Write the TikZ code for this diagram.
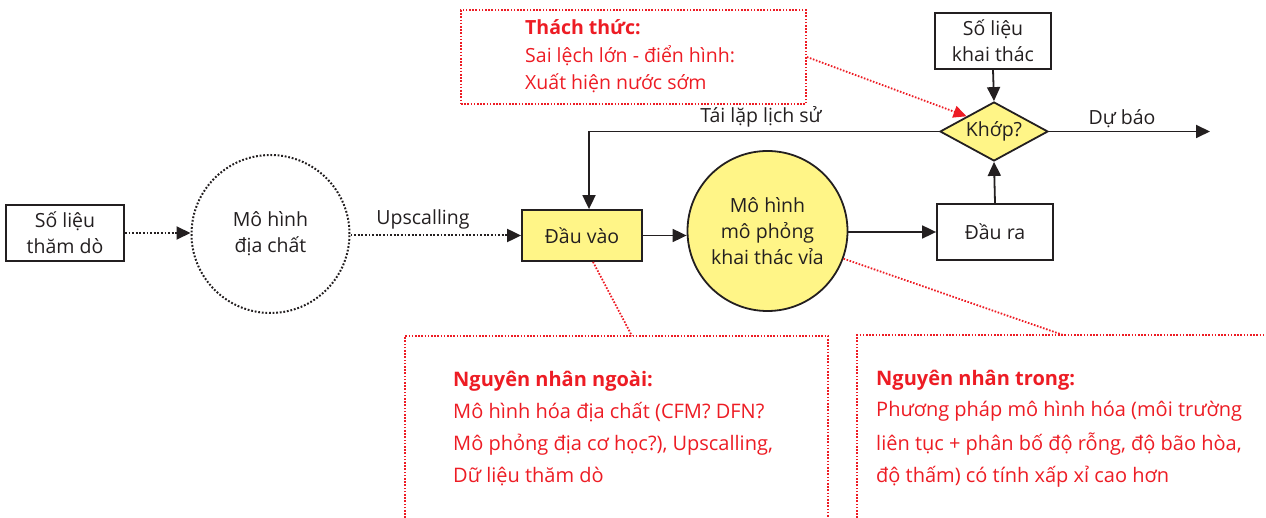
\documentclass[tikz,border=0pt]{standalone}
\usepackage{fontspec}
\setmainfont{Open Sans}
\usetikzlibrary{shapes.geometric,arrows.meta,calc}
\definecolor{cred}{RGB}{237,28,36}
\definecolor{cyel}{RGB}{255,245,135}
\definecolor{cblk}{RGB}{35,31,32}
\begin{document}
\begin{tikzpicture}[x=1pt,y=-1pt,
  every node/.style={text=cblk},
  lbl/.style={font=\fontsize{19.5}{26}\selectfont, align=center},
  bx/.style={lbl, draw=cblk, line width=1.8pt, rectangle, inner sep=0pt},
  ylw/.style={fill=cyel},
  arr/.style={draw=cblk, line width=1.8pt, -{Triangle[length=14pt,width=13pt]}},
  darr/.style={arr, line width=2pt, dash pattern=on 1.8pt off 1.8pt},
  rline/.style={draw=cred, line width=1.8pt, dash pattern=on 1.6pt off 1.6pt},
  rarr/.style={rline, -{Triangle[length=13pt,width=12pt,fill=cred,sep=0pt]}},
  rtitle/.style={text=cred, font=\fontsize{19.5}{26}\bfseries\selectfont, anchor=base west, inner sep=0pt},
  rtext/.style={text=cred, font=\fontsize{19.5}{26}\selectfont, anchor=base west, inner sep=0pt},
  btitle/.style={text=cred, font=\fontsize{20}{26}\bfseries\selectfont, anchor=base west, inner sep=0pt},
  btext/.style={text=cred, font=\fontsize{20}{26}\selectfont, anchor=base west, inner sep=0pt},
  plain/.style={font=\fontsize{19.5}{26}\selectfont, anchor=base, inner sep=0pt}
]
\useasboundingbox (0,0) rectangle (1266,518);

% main nodes
\node[bx, minimum width=118pt, minimum height=56pt] (sl1) at (65,233) {Số liệu\\thăm dò};
\node[lbl, circle, draw=cblk, line width=2pt, dash pattern=on 1.8pt off 1.8pt, minimum size=158pt, inner sep=0pt] (geo) at (270.5,234) {Mô hình\\địa chất};
\node[bx, ylw, minimum width=120pt, minimum height=51pt] (dv) at (582,235.5) {Đầu vào};
\node[lbl, circle, draw=cblk, line width=1.8pt, ylw, minimum size=160pt, inner sep=0pt] (mp) at (767.5,231) {Mô hình\\mô phỏng\\khai thác vỉa};
\node[bx, minimum width=116pt, minimum height=56pt] (dr) at (995,232) {Đầu ra};
\node[bx, minimum width=116pt, minimum height=56pt] (slk) at (993,41) {Số liệu\\khai thác};
\node[lbl, diamond, draw=cblk, line width=1.8pt, ylw, aspect=1.83, minimum width=108pt, minimum height=59pt, inner sep=0pt] (kh) at (994,131.5) {Khớp?};

% coordinates
\coordinate (loop) at (589,131.5);
\coordinate (db) at (1210,131.5);

% connectors
\draw[darr] (sl1.east) -- (sl1.east -| geo.west);
\draw[darr] (geo.east |- dv.west) -- (dv.west);
\draw[arr] (dv.east) -- (dv.east -| mp.west);
\draw[arr] (mp.east |- dr.west) -- (dr.west);
\draw[arr] (dr.north) -- (kh.south);
\draw[arr] (slk.south) -- (kh.north);
\draw[arr] (kh.east) -- (db);
\draw[arr] (kh.west) -- (loop) -- (loop |- dv.north);

% connector labels
\node[plain] (lup) at (423,225) {Upscalling};
\node[plain] (ltl) at (761,123) {Tái lặp lịch sử};
\node[plain] (ldb) at (1122,125) {Dự báo};

% top callout
\node[draw=cred, line width=1.8pt, dash pattern=on 1.6pt off 1.6pt, rectangle, minimum width=345pt, minimum height=94pt, inner sep=0pt] (tc) at (633.5,57) {};
\node[rtitle] (tc1) at (525,35) {Thách thức:};
\node[rtext] (tc2) at (525,63) {Sai lệch lớn - điển hình:};
\node[rtext] (tc3) at (525,90) {Xuất hiện nước sớm};
\draw[rarr] (tc.east) -- (kh.north west);

% bottom-left callout
\coordinate (bl1) at (405,518);
\coordinate (bl2) at (405,336);
\coordinate (bl3) at (828,336);
\coordinate (bl4) at (828,518);
\coordinate (blc) at (632,336);
\draw[rline] (bl1) -- (bl2) -- (bl3) -- (bl4);
\draw[rline] ($(dv.south)+(11,0)$) -- (blc);
\node[btitle] (bla) at (453,387) {Nguyên nhân ngoài:};
\node[btext] (blb) at (453,418) {Mô hình hóa địa chất (CFM? DFN?};
\node[btext] (blcx) at (453,450) {Mô phỏng địa cơ học?), Upscalling,};
\node[btext] (bld) at (453,482) {Dữ liệu thăm dò};

% bottom-right callout
\coordinate (br1) at (857,518);
\coordinate (br2) at (857,335);
\coordinate (br3) at (1266,335);
\coordinate (brc) at (1063,335);
\draw[rline] (br1) -- (br2) -- (br3);
\draw[rline] (mp.-20) -- (brc);
\node[btitle] (bra) at (876,385) {Nguyên nhân trong:};
\node[btext] (brb) at (876,417) {Phương pháp mô hình hóa (môi trường};
\node[btext] (brcx) at (876,450) {liên tục + phân bố độ rỗng, độ bão hòa,};
\node[btext] (brd) at (876,482) {độ thấm) có tính xấp xỉ cao hơn};
\end{tikzpicture}
\end{document}
